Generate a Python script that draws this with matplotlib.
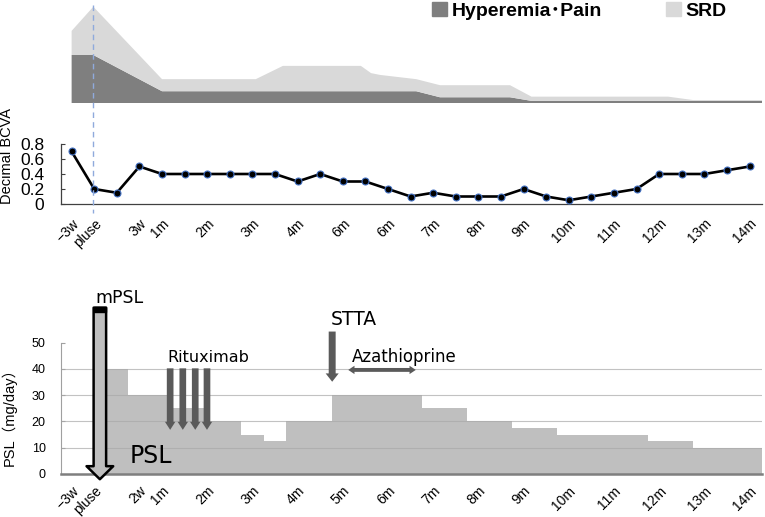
import matplotlib
matplotlib.use("Agg")
import matplotlib.pyplot as plt
from matplotlib.patches import Patch, Rectangle
from matplotlib.lines import Line2D
from matplotlib.transforms import blended_transform_factory

plt.rcParams['font.family'] = ['Liberation Sans', 'Noto Sans CJK JP', 'DejaVu Sans']

# --- data (x positions are visit indices, 0 = -3w, 1 = pulse) ---
# top: symptom score areas
sym_x = [0, 0.96, 4.0, 8.15, 9.35, 12.8, 13.25, 13.65, 15.25, 16.3, 19.4, 20.35, 26.4, 27.5, 30.6]
hyperemia_pain = [4, 4, 1, 1, 1, 1, 1, 1, 1, 0.5, 0.5, 0.2, 0.2, 0.2, 0.2]
srd = [2, 4, 1, 1, 2.1, 2.1, 1.5, 1.35, 1, 1, 1, 0.35, 0.35, 0.07, 0.07]

# middle: decimal BCVA per visit
bcva = [0.7, 0.2, 0.15, 0.5, 0.4, 0.4, 0.4, 0.4, 0.4, 0.4, 0.3, 0.4, 0.3, 0.3, 0.2,
        0.1, 0.15, 0.1, 0.1, 0.1, 0.2, 0.1, 0.05, 0.1, 0.15, 0.2, 0.4, 0.4, 0.4, 0.45, 0.5]
bcva_tick_pos = [0, 1, 3, 4, 6, 8, 10, 12, 14, 16, 18, 20, 22, 24, 26, 28, 30]
bcva_tick_lab = ["\u22123w", "pluse", "3w", "1m", "2m", "3m", "4m", "6m", "6m",
                 "7m", "8m", "9m", "10m", "11m", "12m", "13m", "14m"]
psl_tick_lab = ["\u22123w", "pluse", "2w", "1m", "2m", "3m", "4m", "5m", "6m",
                "7m", "8m", "9m", "10m", "11m", "12m", "13m", "14m"]

# bottom: PSL dose steps (edges in visit index, dose mg/day)
psl_edges = [1.5, 2.5, 4.5, 6.0, 7.5, 8.5, 9.5, 11.5, 15.5, 17.5, 19.5, 21.5, 25.5, 27.5, 30.55]
psl_dose = [40, 30, 25, 20, 15, 12.5, 20, 30, 25, 20, 17.5, 15, 12.5, 10]

mpsl_x = 1.25
rituximab_x = [4.36, 4.92, 5.47, 5.99]
stta_x = 11.53
aza_start, aza_end = 12.24, 15.23

xlim = (-0.47, 30.55)
dark = "#7f7f7f"
light = "#d9d9d9"
arrow_c = "#5a5a5a"

fig = plt.figure(figsize=(7.65, 5.17), dpi=100)
L, W = 61 / 765, 701 / 765
ax_top = fig.add_axes([L, 0.8002, W, 0.1868])
ax_mid = fig.add_axes([L, 0.6054, W, 0.1161])
ax_bot = fig.add_axes([L, 0.0832, W, 0.3675])

# --- top: symptoms ---
ax_top.stackplot(sym_x, hyperemia_pain, srd, colors=[dark, light], linewidth=0)
ax_top.set_xlim(xlim)
ax_top.set_ylim(0, 8)
ax_top.axis("off")

fig.legend([Patch(color=dark), Patch(color=light)], ["Hyperemia\uff65Pain", "SRD"],
           loc="center right", bbox_to_anchor=(727 / 765, 0.979), ncol=2, frameon=False,
           handlelength=0.75, handleheight=0.75, handletextpad=0.25, columnspacing=3.3,
           prop={"size": 14, "weight": "bold"}, borderaxespad=0, borderpad=0)

# --- middle: BCVA ---
ax_mid.plot(range(len(bcva)), bcva, color="black", lw=1.9, marker="o", ms=5,
            mfc="black", mec="#4472c4", mew=0.8, clip_on=False, zorder=3)
ax_mid.set_xlim(xlim)
ax_mid.set_ylim(0, 0.8)
ax_mid.set_yticks([0, 0.2, 0.4, 0.6, 0.8])
ax_mid.set_yticklabels(["0", "0.2", "0.4", "0.6", "0.8"], fontsize=12.5)
ax_mid.tick_params(axis="y", direction="in", length=3, pad=12, color="#404040")
ax_mid.set_xticks(bcva_tick_pos)
ax_mid.set_xticklabels(bcva_tick_lab, rotation=45, ha="right", rotation_mode="anchor", fontsize=10)
ax_mid.tick_params(axis="x", length=0, pad=9)
for s in ["top", "right"]:
    ax_mid.spines[s].set_visible(False)
for s in ["left", "bottom"]:
    ax_mid.spines[s].set_color("#404040")
    ax_mid.spines[s].set_linewidth(0.9)
ax_mid.set_ylabel("Decimal BCVA", fontsize=10.5)
ax_mid.yaxis.set_label_coords(-0.067, 0.8)

# pulse dashed line across top and middle panels
tr = blended_transform_factory(ax_mid.transData, fig.transFigure)
fig.add_artist(Line2D([0.96, 0.96], [1 - 5 / 517, 1 - 213 / 517], transform=tr,
                      color="#8faadc", lw=1, ls=(0, (4, 3))))

# --- bottom: PSL ---
ax_bot.stairs(psl_dose, psl_edges, fill=True, color="#bfbfbf", lw=0, zorder=1)
for v in [10, 20, 30, 40]:
    ax_bot.axhline(v, color="#a9a9a9", lw=0.8, alpha=0.7, zorder=2)
ax_bot.set_xlim(xlim)
ax_bot.set_ylim(0, 72.3)
ax_bot.set_yticks([0, 10, 20, 30, 40, 50])
ax_bot.set_yticklabels(["0", "10", "20", "30", "40", "50"], fontsize=9)
ax_bot.tick_params(axis="y", direction="in", length=3, pad=11, color="#a0a0a0")
ax_bot.set_xticks(bcva_tick_pos)
ax_bot.set_xticklabels(psl_tick_lab, rotation=45, ha="right", rotation_mode="anchor", fontsize=10)
ax_bot.tick_params(axis="x", length=0, pad=7)
for s in ["top", "right"]:
    ax_bot.spines[s].set_visible(False)
ax_bot.spines["left"].set_bounds(0, 50)
ax_bot.spines["left"].set_color("#a0a0a0")
ax_bot.spines["left"].set_linewidth(0.8)
ax_bot.spines["bottom"].set_color("#7f7f7f")
ax_bot.spines["bottom"].set_linewidth(1.8)
ax_bot.set_ylabel("PSL\uff08mg/day\uff09", fontsize=10.5)
ax_bot.yaxis.set_label_coords(-0.0628, 0.32)


def down_arrow(x, y0, y1, hl, hw, tw, fc, ec="none", lw=0):
    ax_bot.annotate("", xy=(x, y1), xytext=(x, y0), annotation_clip=False,
                    arrowprops=dict(arrowstyle=f"simple,head_length={hl},head_width={hw},tail_width={tw}",
                                    mutation_scale=1, fc=fc, ec=ec, lw=lw,
                                    shrinkA=0, shrinkB=0), zorder=5)


# mPSL pulse arrow
down_arrow(mpsl_x, 63.3, -2.0, 9.4, 19.2, 9.0, "#bfbfbf", "black", 1.8)
ax_bot.add_patch(Rectangle((mpsl_x - 0.28, 61.6), 0.56, 1.9, color="black",
                           clip_on=False, zorder=6))
ax_bot.text(mpsl_x - 0.2, 65.1, "mPSL", fontsize=12.5, family="DejaVu Sans", va="baseline")
ax_bot.text(2.55, 4.1, "PSL", fontsize=17, family="DejaVu Sans", va="baseline")

# Rituximab
for rx in rituximab_x:
    down_arrow(rx, 40.2, 16.8, 5.8, 7.5, 4.8, arrow_c)
ax_bot.text(4.25, 42.6, "Rituximab", fontsize=11.5, family="DejaVu Sans", va="baseline")

# STTA
down_arrow(stta_x, 54.2, 35.1, 6.0, 9.4, 5.0, arrow_c)
ax_bot.text(11.45, 56.7, "STTA", fontsize=13.5, family="DejaVu Sans", va="baseline")

# Azathioprine
aza_mid = (aza_start + aza_end) / 2
for end in (aza_start, aza_end):
    ax_bot.annotate("", xy=(end, 39.6), xytext=(aza_mid, 39.6), annotation_clip=False,
                    arrowprops=dict(arrowstyle="simple,head_length=4.5,head_width=6,tail_width=2.8",
                                    mutation_scale=1, fc=arrow_c, ec="none",
                                    shrinkA=0, shrinkB=0), zorder=5)
ax_bot.text(12.4, 42.6, "Azathioprine", fontsize=12, family="DejaVu Sans", va="baseline")

fig.savefig("out.png", dpi=100)
